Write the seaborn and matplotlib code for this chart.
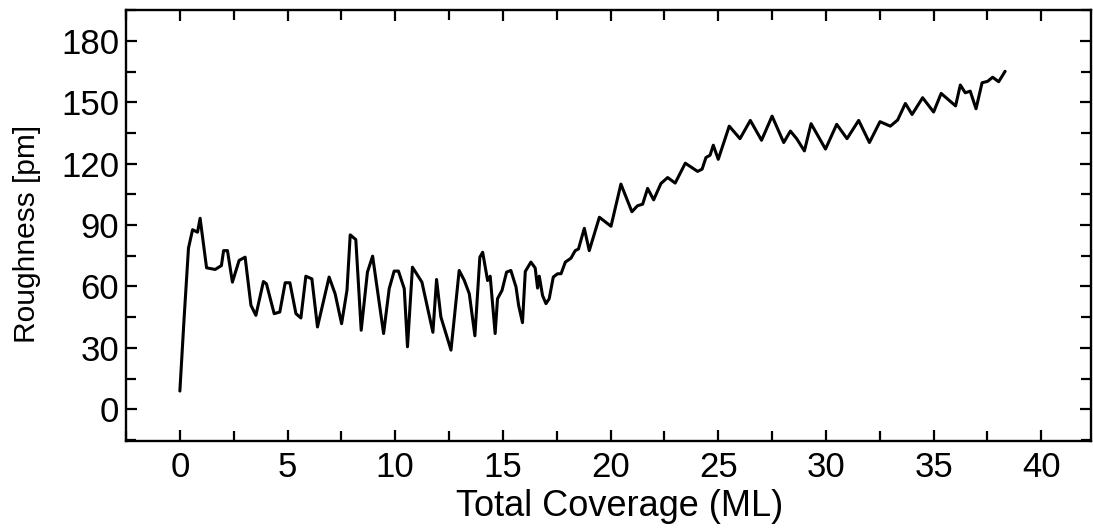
import numpy as np
import pandas as pd
import matplotlib
matplotlib.use("Agg")
import matplotlib.pyplot as plt
import seaborn as sns
from matplotlib.ticker import MultipleLocator

coverage = [0.0, 0.2, 0.4, 0.59, 0.82, 0.94, 1.24, 1.64, 1.93, 2.03, 2.21, 2.44, 2.75, 3.03,
            3.30, 3.53, 3.88, 4.02, 4.38, 4.64, 4.89, 5.11, 5.39, 5.62, 5.85, 6.13, 6.39,
            6.93, 7.21, 7.51, 7.76, 7.91, 8.17, 8.42, 8.71, 8.95, 9.46, 9.72, 9.95, 10.15,
            10.42, 10.57, 10.80, 11.24, 11.75, 11.92, 12.12, 12.59, 12.97, 13.21, 13.44,
            13.70, 13.93, 14.06, 14.29, 14.41, 14.64, 14.75, 14.96, 15.17, 15.37, 15.61,
            15.73, 15.91, 16.04, 16.30, 16.50, 16.61, 16.69, 16.84, 17.0, 17.15, 17.34,
            17.54, 17.70, 17.90, 18.16, 18.36, 18.51, 18.78, 19.01, 19.48, 20.02, 20.48,
            20.99, 21.25, 21.49, 21.72, 22.0, 22.34, 22.65, 23.0, 23.47, 24.04, 24.25,
            24.43, 24.62, 24.77, 25.0, 25.51, 26.01, 26.49, 27.01, 27.50, 28.04, 28.35,
            28.64, 29.0, 29.31, 29.98, 30.50, 30.98, 31.52, 32.02, 32.51, 32.99, 33.33,
            33.69, 34.0, 34.49, 35.0, 35.35, 36.02, 36.24, 36.47, 36.70, 36.97, 37.25,
            37.51, 37.74, 38.02, 38.32]
roughness = [8.9, 45.0, 78.7, 87.7, 86.5, 93.3, 69.1, 68.3, 70.2, 77.5, 77.5, 62.1, 72.7, 74.3,
             50.8, 45.9, 62.4, 61.3, 46.7, 47.5, 61.8, 61.8, 46.7, 44.6, 65.0, 63.7, 40.2,
             64.6, 56.4, 41.8, 58.1, 85.2, 82.9, 38.6, 67.0, 74.8, 37.0, 58.9, 67.5, 67.5,
             58.9, 30.5, 69.4, 62.1, 37.6, 63.4, 45.1, 28.9, 67.8, 62.9, 56.4,
             35.9, 74.3, 76.7, 62.9, 65.0, 37.0, 54.0, 58.1, 67.0, 67.8, 59.7,
             50.8, 42.3, 67.3, 71.9, 69.0, 59.2, 65.0, 55.6, 51.6, 54.0, 64.6,
             66.2, 66.2, 71.9, 73.8, 77.5, 78.3, 88.4, 77.5, 93.8, 89.4, 110.0,
             96.5, 99.4, 100.2, 107.9, 102.3, 110.3, 113.2, 110.5, 120.2, 116.2, 117.3,
             123.0, 124.1, 129.0, 122.1, 138.3, 132.2, 141.1, 131.4, 143.2, 130.3, 135.9,
             132.2, 126.2, 139.5, 127.1, 139.2, 132.2, 141.1, 130.3, 140.5, 138.3, 141.3,
             149.4, 144.0, 152.2, 145.2, 154.3, 148.2, 158.4, 154.6, 155.4, 146.8, 159.5,
             160.2, 162.2, 160.0, 165.1]

xticks = [0, 5, 10, 15, 20, 25, 30, 35, 40]
yticks = [0, 30, 60, 90, 120, 150, 180]

df = pd.DataFrame({"Total Coverage (ML)": coverage, "Roughness [pm]": roughness})

sns.set_style("ticks")
plt.rcParams['font.family'] = ['Liberation Sans', 'DejaVu Sans']

fig = plt.figure(figsize=(10.93, 5.31), dpi=100)
ax = fig.add_axes([0.1153, 0.1695, 0.8827, 0.8115])

sns.lineplot(data=df, x="Total Coverage (ML)", y="Roughness [pm]", ax=ax,
             color="black", linewidth=2.2, sort=False, estimator=None)

ax.set_xlim(-2.5, 42.3)
ax.set_ylim(-15.5, 195)
ax.set_xticks(xticks)
ax.set_yticks(yticks)
ax.xaxis.set_minor_locator(MultipleLocator(2.5))
ax.yaxis.set_minor_locator(MultipleLocator(15))

for s in ax.spines.values():
    s.set_visible(True)
    s.set_linewidth(1.7)
    s.set_color("black")

ax.tick_params(which="both", direction="in", top=True, right=True,
               width=1.6, color="black", labelsize=25, labelcolor="black")
ax.tick_params(which="major", length=8)
ax.tick_params(which="minor", length=7)
ax.tick_params(axis="x", which="major", pad=7)
ax.tick_params(axis="y", which="major", pad=5)

ax.set_xlabel("Total Coverage (ML)", fontsize=26, color="black")
ax.set_ylabel("Roughness [pm]", fontsize=21.5, color="black")
ax.xaxis.set_label_coords(0.512, -0.112)
ax.yaxis.set_label_coords(-0.088, 0.48)

fig.savefig("out.png", dpi=100)
